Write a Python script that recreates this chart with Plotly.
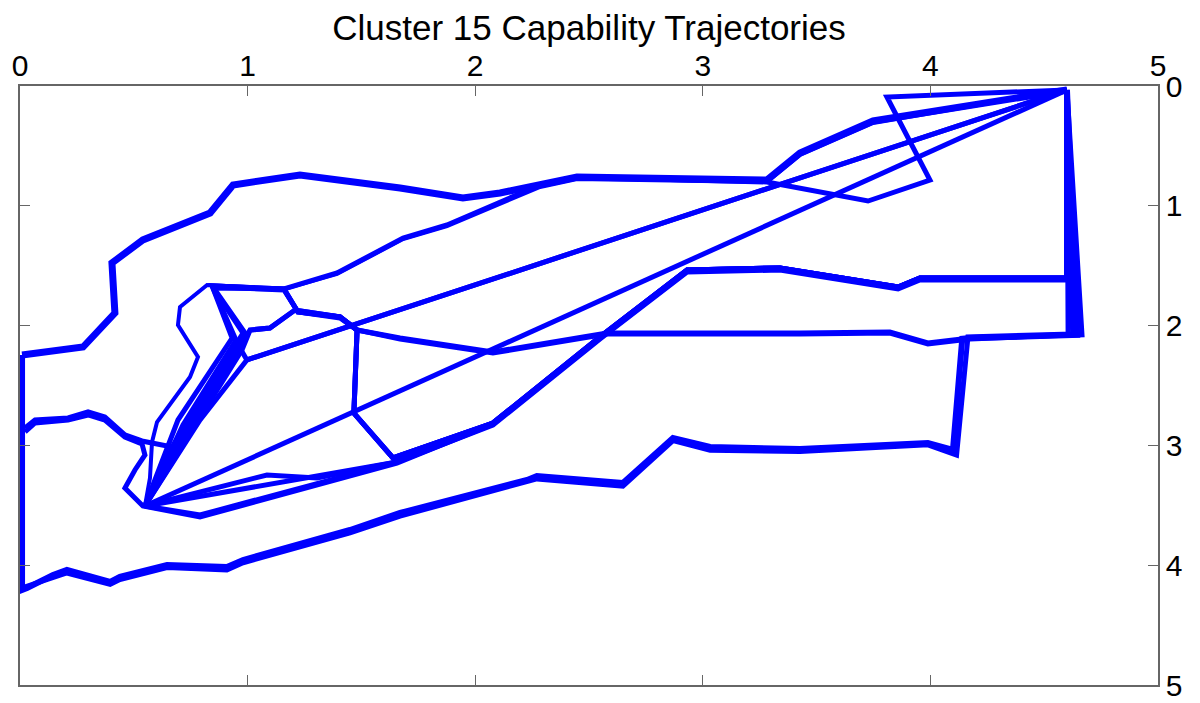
import plotly.graph_objects as go

# ---- data: capability trajectories (x = capability A, y = capability B) ----
traj_01_x = [0.009, 0.277, 0.417, 0.404, 0.540, 0.835, 0.936, 1.230, 1.670, 1.946, 2.109, 2.285, 2.447, 3.282, 3.427, 3.748, 4.600]
traj_01_y = [2.245, 2.179, 1.895, 1.477, 1.285, 1.060, 0.826, 0.743, 0.851, 0.935, 0.893, 0.826, 0.760, 0.785, 0.559, 0.292, 0.033]

traj_02_x = [0.549, 0.694, 0.932, 0.844, 1.160, 1.393, 1.683, 1.876, 2.285, 2.447, 3.282, 3.726, 3.998, 3.809, 4.600]
traj_02_y = [3.506, 2.788, 2.104, 1.669, 1.694, 1.561, 1.269, 1.160, 0.826, 0.760, 0.801, 0.960, 0.785, 0.092, 0.033]

traj_03_x = [0.549, 0.791, 0.997, 4.600]
traj_03_y = [3.506, 2.788, 2.287, 0.033]

traj_04_x = [0.549, 4.600]
traj_04_y = [3.506, 0.033]

traj_05_x = [0.549, 0.747, 0.980, 0.848, 1.160, 1.221, 1.406, 1.481, 1.670, 2.078, 2.474, 2.579, 3.427, 3.822, 3.989, 4.174, 4.666, 4.600]
traj_05_y = [3.506, 2.771, 2.062, 1.686, 1.694, 1.886, 1.928, 2.037, 2.104, 2.220, 2.095, 2.062, 2.062, 2.053, 2.145, 2.104, 2.078, 0.033]

traj_06_x = [0.549, 0.773, 1.011, 1.098, 1.208, 1.406, 1.481, 1.467, 1.639, 2.078, 2.548, 2.931, 3.339, 3.858, 3.954, 4.600, 4.600]
traj_06_y = [3.506, 2.771, 2.037, 2.020, 1.870, 1.928, 2.037, 2.730, 3.105, 2.813, 2.095, 1.536, 1.519, 1.678, 1.603, 1.603, 0.033]

traj_07_x = [0.549, 0.791, 1.656, 2.078, 2.548, 2.931, 3.339, 3.858, 3.954, 4.600, 4.600]
traj_07_y = [3.506, 3.581, 3.139, 2.830, 2.112, 1.553, 1.536, 1.694, 1.619, 1.619, 0.033]

traj_08_x = [0.549, 1.085, 1.305, 1.656, 2.078, 2.548, 2.931, 3.339, 3.858, 3.954, 4.600, 4.600]
traj_08_y = [3.506, 3.247, 3.272, 3.139, 2.821, 2.104, 1.545, 1.528, 1.686, 1.611, 1.611, 0.033]

traj_09_x = [0.549, 1.656, 2.078, 2.548, 2.931, 3.339, 3.858, 3.954, 4.600, 4.600]
traj_09_y = [3.506, 3.139, 2.813, 2.095, 1.536, 1.519, 1.678, 1.603, 1.603, 0.033]

traj_10_x = [0.009, 0.009, 0.031, 0.145, 0.206, 0.396, 0.439, 0.646, 0.909, 0.980, 1.450, 1.670, 2.228, 2.271, 2.649, 2.869, 3.032, 3.427, 3.989, 4.099, 4.140, 4.174, 4.645, 4.600]
traj_10_y = [2.245, 4.207, 4.190, 4.082, 4.040, 4.140, 4.098, 3.998, 4.015, 3.957, 3.706, 3.564, 3.289, 3.256, 3.314, 2.938, 3.013, 3.030, 2.980, 3.038, 2.110, 2.104, 2.078, 0.033]

traj_11_x = [0.009, 0.145, 0.206, 0.396, 0.439, 0.646, 0.909, 0.980, 1.450, 1.670, 2.228, 2.271, 2.649, 2.869, 3.032, 3.427, 3.989, 4.115, 4.165, 4.625, 4.600]
traj_11_y = [4.190, 4.107, 4.065, 4.160, 4.120, 4.020, 4.040, 3.980, 3.730, 3.590, 3.310, 3.280, 3.340, 2.960, 3.040, 3.050, 2.995, 3.080, 2.095, 2.070, 0.033]

traj_12_x = [0.022, 0.066, 0.211, 0.299, 0.373, 0.461, 0.536, 0.668, 0.756, 0.989, 0.848, 1.160, 1.221, 1.406, 1.481, 1.670, 2.078, 2.474, 2.579, 3.427, 3.822, 3.989, 4.174, 4.605, 4.600]
traj_12_y = [2.855, 2.788, 2.771, 2.721, 2.763, 2.913, 2.963, 3.013, 2.771, 2.062, 1.678, 1.703, 1.886, 1.937, 2.037, 2.112, 2.229, 2.104, 2.070, 2.070, 2.062, 2.154, 2.112, 2.078, 0.033]

traj_13_x = [0.022, 0.066, 0.211, 0.299, 0.373, 0.461, 0.536, 0.549, 0.505, 0.461, 0.540, 0.791, 1.656, 2.078, 2.548, 2.931, 3.339, 3.858, 3.954, 4.600, 4.600]
traj_13_y = [2.888, 2.813, 2.788, 2.746, 2.788, 2.930, 2.988, 3.080, 3.205, 3.356, 3.506, 3.598, 3.147, 2.821, 2.104, 1.545, 1.528, 1.686, 1.611, 1.611, 0.033]

traj_14_x = [0.549, 0.571, 0.580, 0.602, 0.747, 0.782, 0.694, 0.703, 0.822, 1.160, 1.393, 1.683, 1.876, 2.285, 2.447, 3.282, 3.427, 3.748, 4.600]
traj_14_y = [3.506, 3.272, 2.972, 2.805, 2.429, 2.262, 1.995, 1.845, 1.661, 1.694, 1.569, 1.277, 1.169, 0.843, 0.776, 0.801, 0.576, 0.309, 0.033]

traj_15_x = [0.549, 0.730, 0.958, 0.997, 4.600]
traj_15_y = [3.506, 2.830, 2.160, 2.287, 0.033]

traj_16_x = [0.549, 0.716, 0.949, 0.844, 1.160, 1.221, 1.406, 1.481, 1.467, 1.639, 2.078, 2.548, 2.931, 3.339, 3.858, 3.954, 4.600, 4.600]
traj_16_y = [3.506, 2.830, 2.120, 1.669, 1.694, 1.886, 1.928, 2.037, 2.730, 3.105, 2.813, 2.095, 1.536, 1.519, 1.678, 1.603, 1.603, 0.033]

traj_17_x = [0.549, 0.769, 0.975, 1.011, 1.098, 1.208, 1.406, 1.481, 1.467, 1.639, 2.078, 2.548, 2.931, 3.339, 3.858, 3.954, 4.600, 4.600]
traj_17_y = [3.506, 2.830, 2.204, 2.037, 2.020, 1.870, 1.928, 2.037, 2.730, 3.105, 2.813, 2.095, 1.536, 1.519, 1.678, 1.603, 1.603, 0.033]

tick_values = [0, 1, 2, 3, 4, 5]
tick_labels = ["0", "1", "2", "3", "4", "5"]

# ---- build figure ----
trajectories = [
    (traj_01_x, traj_01_y), (traj_02_x, traj_02_y), (traj_03_x, traj_03_y),
    (traj_04_x, traj_04_y), (traj_05_x, traj_05_y), (traj_06_x, traj_06_y),
    (traj_07_x, traj_07_y), (traj_08_x, traj_08_y), (traj_09_x, traj_09_y),
    (traj_10_x, traj_10_y), (traj_11_x, traj_11_y), (traj_12_x, traj_12_y),
    (traj_13_x, traj_13_y), (traj_14_x, traj_14_y), (traj_15_x, traj_15_y),
    (traj_16_x, traj_16_y), (traj_17_x, traj_17_y),
]
widths = [7, 5, 5, 5, 5, 5, 5, 5, 5, 6, 5, 5, 5, 4, 5, 5, 5]

fig = go.Figure()
for (xs, ys), w in zip(trajectories, widths):
    fig.add_trace(go.Scatter(
        x=xs, y=ys, mode="lines",
        line=dict(color="#0000FF", width=w),
        showlegend=False, hoverinfo="skip",
    ))

axis_common = dict(
    tickvals=tick_values, ticktext=tick_labels,
    ticks="inside", ticklen=10, tickwidth=1.2, tickcolor="#666666",
    showline=True, linecolor="#666666", linewidth=1.5, mirror="ticks",
    showgrid=False, zeroline=False, automargin=False,
    tickfont=dict(family="Liberation Sans, Arial, sans-serif", size=30, color="black"),
)

# the page body adds an 8px offset, so the figure is 8px smaller than the window
FIG_W, FIG_H = 1192, 695
fig.update_layout(
    width=FIG_W, height=FIG_H,
    margin=dict(l=12, r=42, t=78, b=18, pad=0, autoexpand=False),
    paper_bgcolor="white", plot_bgcolor="white",
    title=dict(
        text="Cluster 15 Capability Trajectories",
        x=0.5, xref="paper", xanchor="center",
        y=1 - 20 / FIG_H, yref="container", yanchor="middle",
        font=dict(family="Liberation Sans, Arial, sans-serif", size=35, color="black"),
    ),
)
fig.update_xaxes(**{**axis_common, "range": [0, 5]}, side="top", ticklabelstandoff=-4)
fig.update_yaxes(**{**axis_common, "range": [5, 0]}, side="right")

fig.write_html("out.html")
